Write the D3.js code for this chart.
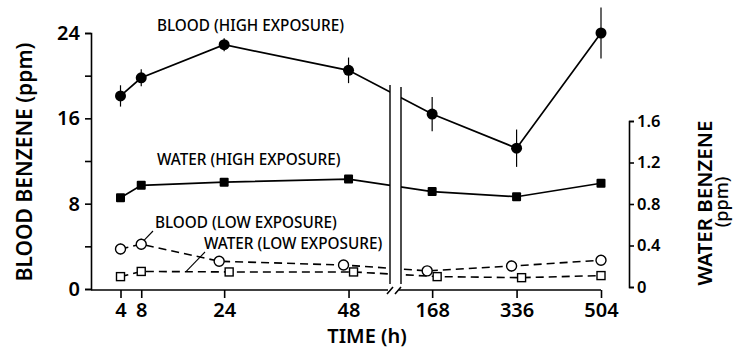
<!DOCTYPE html>
<html><head><meta charset="utf-8">
<script src="https://cdn.jsdelivr.net/npm/d3@7"></script>
<style>
body{margin:0;background:#fff}
svg{display:block}
text{font-family:"Noto Sans",sans-serif;fill:#000}
</style></head><body>
<svg id="chart" width="734" height="349"></svg>
<script>
// Sampling times (h) and measured concentrations
const times = [4, 8, 24, 48, 168, 336, 504];
const bloodHigh = [18.1, 19.8, 22.9, 20.5, 16.4, 13.2, 24.0];       // ppm, left axis
const bloodHighErr = [1.0, 0.8, 0.6, 1.2, 1.6, 1.75, 2.4];
const waterHigh = [0.86, 0.98, 1.01, 1.04, 0.92, 0.87, 1.00];       // ppm, right axis
const bloodLow = [3.75, 4.2, 2.6, 2.25, 1.7, 2.15, 2.7];            // ppm, left axis
const bloodLowErr = [0.5, 0.5, 0.3, 0.4, 0.2, 0.5, 0.2];
const waterLow = [0.10, 0.15, 0.145, 0.145, 0.10, 0.09, 0.11];      // ppm, right axis
const bloodTicks = [0, 4, 8, 12, 16, 20, 24];
const bloodTickLabels = [0, 8, 16, 24];
const waterTicks = [0, 0.4, 0.8, 1.2, 1.6];
const timeTicks = [4, 8, 24, 48, 168, 336, 504];
const seriesLabels = ["BLOOD (HIGH EXPOSURE)", "WATER (HIGH EXPOSURE)", "BLOOD (LOW EXPOSURE)", "WATER (LOW EXPOSURE)"];
const titles = {x: "TIME (h)", yLeft: "BLOOD BENZENE (ppm)", yRight1: "WATER BENZENE", yRight2: "(ppm)"};

const svg = d3.select("#chart");
const ink = "#000";

// Time axis is broken between ~56 h and ~106 h
const breakStart = 56, breakEnd = 106;
const x = d3.scaleLinear().domain([-1.5, breakStart, breakEnd, 504]).range([92, 390, 401, 601]);
const yL = d3.scaleLinear().domain([0, 24]).range([289, 33]);
const yR = d3.scaleLinear().domain([0, 1.6]).range([287, 121]);
const axisY = 290;

const rows = times.map((t, i) => ({
  t, bh: bloodHigh[i], bhe: bloodHighErr[i], wh: waterHigh[i],
  bl: bloodLow[i], ble: bloodLowErr[i], wl: waterLow[i]
}));

// Nudge low-exposure markers apart where they would overlap
rows.forEach(d => {
  const close = Math.abs(yL(d.bl) - yR(d.wl)) < 14;
  d.dxC = close ? -5 : 0;
  d.dxS = close ? 5 : 0;
});

// ---- lines
const g = svg.append("g");
g.append("path").datum(rows)
  .attr("d", d3.line().x(d => x(d.t)).y(d => yL(d.bh)))
  .attr("fill", "none").attr("stroke", ink).attr("stroke-width", 1.7);
g.append("path").datum(rows)
  .attr("d", d3.line().x(d => x(d.t)).y(d => yR(d.wh)))
  .attr("fill", "none").attr("stroke", ink).attr("stroke-width", 1.7);
g.append("path").datum(rows)
  .attr("d", d3.line().x(d => x(d.t) + d.dxC).y(d => yL(d.bl)))
  .attr("fill", "none").attr("stroke", ink).attr("stroke-width", 1.6).attr("stroke-dasharray", "8,5");
g.append("path").datum(rows)
  .attr("d", d3.line().x(d => x(d.t) + d.dxS).y(d => yR(d.wl)))
  .attr("fill", "none").attr("stroke", ink).attr("stroke-width", 1.6).attr("stroke-dasharray", "8,5");

// ---- axis break: blank the gap and draw the two vertical break bars
const gx0 = x(breakStart), gx1 = x(breakEnd);
svg.append("rect").attr("x", gx0).attr("y", 80).attr("width", gx1 - gx0).attr("height", 220).attr("fill", "#fff");
[gx0, gx1].forEach((bx, i) => {
  svg.append("line").attr("x1", bx).attr("x2", bx).attr("y1", 85 + i * 2).attr("y2", 284)
    .attr("stroke", ink).attr("stroke-width", 1.4);
});

// ---- error bars
const eb = svg.append("g").attr("stroke", ink).attr("stroke-width", 1.2);
eb.selectAll(".ebh").data(rows).join("line")
  .attr("x1", d => x(d.t)).attr("x2", d => x(d.t))
  .attr("y1", d => yL(d.bh - d.bhe)).attr("y2", d => yL(d.bh + d.bhe));
eb.selectAll(".ebl").data(rows).join("line").attr("class", "ebl")
  .attr("x1", d => x(d.t) + d.dxC).attr("x2", d => x(d.t) + d.dxC)
  .attr("y1", d => yL(d.bl - d.ble)).attr("y2", d => yL(d.bl + d.ble));

// ---- markers
const m = svg.append("g");
m.selectAll(".bh").data(rows).join("circle")
  .attr("cx", d => x(d.t)).attr("cy", d => yL(d.bh)).attr("r", 5.5).attr("fill", ink);
m.selectAll(".wh").data(rows).join("rect")
  .attr("x", d => x(d.t) - 4.5).attr("y", d => yR(d.wh) - 4.5)
  .attr("width", 9).attr("height", 9).attr("rx", 1).attr("fill", ink);
m.selectAll(".bl").data(rows).join("circle")
  .attr("cx", d => x(d.t) + d.dxC).attr("cy", d => yL(d.bl)).attr("r", 5)
  .attr("fill", "#fff").attr("stroke", ink).attr("stroke-width", 1.4);
m.selectAll(".wl").data(rows).join("rect")
  .attr("x", d => x(d.t) + d.dxS - 4).attr("y", d => yR(d.wl) - 4)
  .attr("width", 8).attr("height", 8)
  .attr("fill", "#fff").attr("stroke", ink).attr("stroke-width", 1.4);

// ---- left axis
const axL = svg.append("g").attr("transform", "translate(91,0)")
  .call(d3.axisLeft(yL).tickValues(bloodTicks).tickSize(6).tickPadding(5)
    .tickFormat(d => bloodTickLabels.includes(d) ? d : ""));
// ---- right axis
const axR = svg.append("g").attr("transform", "translate(629,0)")
  .call(d3.axisRight(yR).tickValues(waterTicks).tickSize(5).tickPadding(3)
    .tickFormat(d => d === 0 ? "0" : d3.format(".1f")(d)));
// ---- bottom axis (two segments with break marks)
const axB = svg.append("g").attr("transform", `translate(0,${axisY})`)
  .call(d3.axisBottom(x).tickValues(timeTicks).tickSize(8).tickPadding(5));
axB.select(".domain").remove();
axB.append("path").attr("d", `M91,0H${gx0 - 2}`).attr("stroke", ink).attr("fill", "none");
axB.append("path").attr("d", `M${gx1 - 2},0H${x(504)}`).attr("stroke", ink).attr("fill", "none");
axB.append("path").attr("d", `M${gx0 - 3},4L${gx0 + 3},-3M${gx1 - 6},4L${gx1},-3`)
  .attr("stroke", ink).attr("fill", "none");

[axL, axR, axB].forEach(a => {
  a.selectAll("path,line").attr("stroke", ink).attr("stroke-width", 1.6);
  a.selectAll("text").attr("fill", ink).style("font-family", "'Noto Sans',sans-serif");
});
axL.selectAll("text").style("font-size", "20px").style("font-weight", 600);
axR.selectAll("text").style("font-size", "16.5px").style("font-weight", 600);
axB.selectAll("text").style("font-size", "20px").style("font-weight", 600);

// ---- series labels and leaders
const lab = svg.append("g").style("font-size", "15.3px").style("font-weight", 500);
lab.append("text").attr("x", 157).attr("y", 31).text(seriesLabels[0]);
lab.append("text").attr("x", 157).attr("y", 165).text(seriesLabels[1]);
lab.append("text").attr("x", 155).attr("y", 228).text(seriesLabels[2]);
lab.append("text").attr("x", 204).attr("y", 249).text(seriesLabels[3]);
svg.append("line").attr("x1", 153).attr("y1", 231)
  .attr("x2", x(8) + 3).attr("y2", yL(bloodLow[1]) - 4)
  .attr("stroke", ink).attr("stroke-width", 1.1);
svg.append("line").attr("x1", 205).attr("y1", 252)
  .attr("x2", 186).attr("y2", (yR(waterLow[1]) + yR(waterLow[2])) / 2)
  .attr("stroke", ink).attr("stroke-width", 1.1);

// ---- axis titles
svg.append("text").attr("x", 367).attr("y", 343).attr("text-anchor", "middle")
  .style("font-size", "20px").style("font-weight", 600).text(titles.x);
svg.append("text").attr("transform", "translate(32,162) rotate(-90)").attr("text-anchor", "middle")
  .style("font-size", "21px").style("font-weight", 600).text(titles.yLeft);
svg.append("text").attr("transform", "translate(712,203) rotate(-90)").attr("text-anchor", "middle")
  .style("font-size", "20.5px").style("font-weight", 600).text(titles.yRight1);
svg.append("text").attr("transform", "translate(728,202) rotate(-90)").attr("text-anchor", "middle")
  .style("font-size", "18px").style("font-weight", 500).text(titles.yRight2);
</script>
</body></html>
